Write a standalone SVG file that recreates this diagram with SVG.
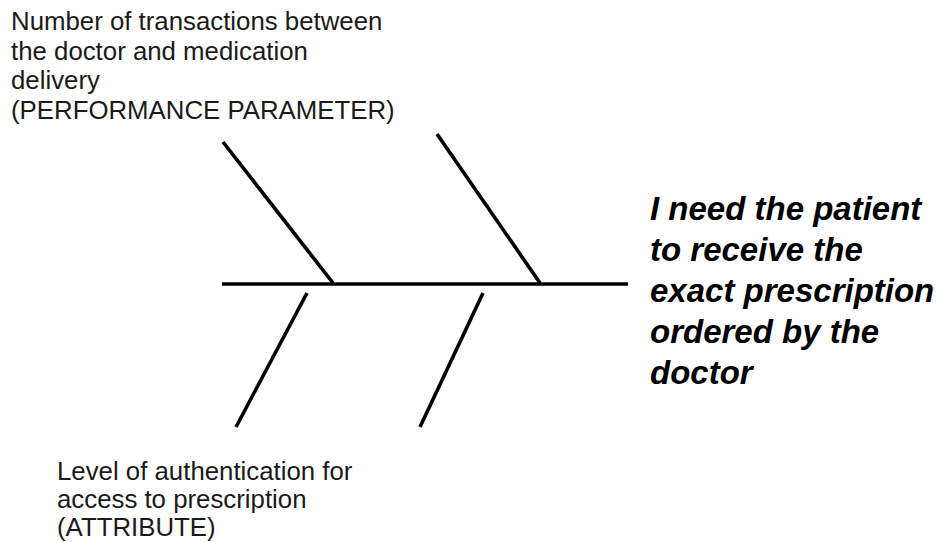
<svg xmlns="http://www.w3.org/2000/svg" width="937" height="542" viewBox="0 0 937 542">
  <style>
    .bone { stroke: #000; stroke-width: 3.6; fill: none; stroke-linecap: butt; }
    .label { font-family: "Liberation Sans", Arial, sans-serif; font-size: 25.8px; fill: #1a1a1a; }
    .effect { font-family: "Liberation Sans", Arial, sans-serif; font-size: 33px; font-weight: bold; font-style: italic; fill: #000; }
  </style>
  <rect width="937" height="542" fill="#fff"/>

  <!-- fishbone: spine and four ribs -->
  <g id="connectors">
    <line class="bone" x1="222" y1="284" x2="628" y2="284" stroke-width="4"/>
    <line class="bone" x1="223" y1="142" x2="333" y2="283"/>
    <line class="bone" x1="437" y1="134" x2="540" y2="283"/>
    <line class="bone" x1="307" y1="293" x2="236" y2="427"/>
    <line class="bone" x1="483" y1="293" x2="420" y2="427"/>
  </g>

  <g id="cause-performance">
    <text class="label">
      <tspan x="11" y="30">Number of transactions between</tspan>
      <tspan x="11" y="59.5">the doctor and medication</tspan>
      <tspan x="11" y="89">delivery</tspan>
      <tspan x="11" y="118.5">(PERFORMANCE PARAMETER)</tspan>
    </text>
  </g>

  <g id="cause-attribute">
    <text class="label">
      <tspan x="57" y="480">Level of authentication for</tspan>
      <tspan x="57" y="508">access to prescription</tspan>
      <tspan x="57" y="536">(ATTRIBUTE)</tspan>
    </text>
  </g>

  <g id="effect">
    <text class="effect">
      <tspan x="650" y="220">I need the patient</tspan>
      <tspan x="650" y="261">to receive the</tspan>
      <tspan x="650" y="302">exact prescription</tspan>
      <tspan x="650" y="343">ordered by the</tspan>
      <tspan x="650" y="384">doctor</tspan>
    </text>
  </g>
</svg>
